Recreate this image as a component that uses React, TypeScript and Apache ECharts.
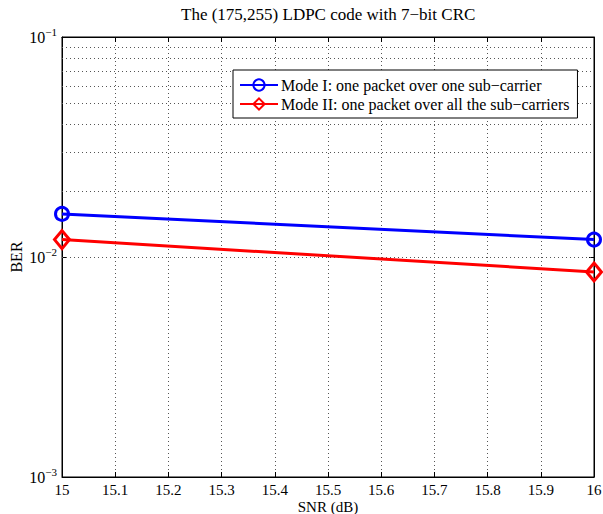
import React, { useEffect, useRef } from "react";
import * as echarts from "echarts";

const snr = [15, 16];
const modeI = [0.0157, 0.012];
const modeII = [0.012, 0.00855];
const seriesNames = [
  "Mode I: one packet over one sub\u2212carrier",
  "Mode II: one packet over all the sub\u2212carriers",
];
const minorMultipliers = [2, 3, 4, 5, 6, 7, 8, 9];
const decades = [0.001, 0.01];
const titleText = "The (175,255) LDPC code with 7\u2212bit CRC";

const FONT = "Liberation Serif";

export default function App() {
  const ref = useRef<HTMLDivElement>(null);
  useEffect(() => {
    if (!ref.current) return;
    const chart = echarts.init(ref.current, undefined, { renderer: "svg" });
    const minorLines: any[] = [];
    decades.forEach((d) => minorMultipliers.forEach((m) => minorLines.push({ yAxis: d * m })));
    const dotted = { color: "#555", width: 1, type: [1, 3] as any };
    const xBase = {
      type: "value" as const,
      min: 15,
      max: 16,
      interval: 0.1,
      axisLine: { show: true, onZero: false, lineStyle: { color: "#000", width: 1 } },
      axisTick: { show: true, inside: true, length: 5, lineStyle: { color: "#000" } },
    };
    const yBase = {
      type: "log" as const,
      logBase: 10,
      min: 0.001,
      max: 0.1,
      axisLine: { show: true, onZero: false, lineStyle: { color: "#000", width: 1 } },
      axisTick: { show: true, inside: true, length: 5, lineStyle: { color: "#000" } },
    };
    chart.setOption({
      animation: false,
      backgroundColor: "#fff",
      title: {
        text: titleText,
        left: 181,
        top: 6,
        padding: 0,
        textStyle: { fontFamily: FONT, fontSize: 17, fontWeight: "normal", color: "#000" },
      },
      grid: {
        left: 62,
        right: 9,
        top: 37,
        bottom: 37,
        show: true,
        borderColor: "#000",
        borderWidth: 1,
        backgroundColor: "#fff",
        outerBoundsMode: "none",
        containLabel: false,
      },
      legend: {
        left: 233,
        top: 70,
        orient: "vertical",
        backgroundColor: "#fff",
        borderColor: "#000",
        borderWidth: 1,
        borderRadius: 0,
        padding: [7, 8, 6, 6],
        itemGap: 3,
        itemWidth: 38,
        itemHeight: 14,
        textStyle: { fontFamily: FONT, fontSize: 16, color: "#000", padding: [0, 0, 0, -2] },
        data: seriesNames,
      },
      xAxis: [
        {
          ...xBase,
          position: "bottom",
          name: "SNR (dB)",
          nameLocation: "middle",
          nameGap: 22,
          nameMoveOverlap: false,
          nameTextStyle: { fontFamily: FONT, fontSize: 15, color: "#000" },
          axisLabel: {
            fontFamily: FONT,
            fontSize: 15,
            color: "#000",
            margin: 5,
            hideOverlap: false,
            formatter: (v: number) => String(Math.round(v * 10) / 10),
          },
          splitLine: { show: true, lineStyle: dotted },
        },
        {
          ...xBase,
          position: "top",
          axisLabel: { show: false },
          splitLine: { show: false },
        },
      ],
      yAxis: [
        {
          ...yBase,
          position: "left",
          name: "BER",
          nameLocation: "middle",
          nameGap: 38,
          nameMoveOverlap: false,
          nameTextStyle: { fontFamily: FONT, fontSize: 16, color: "#000" },
          axisLabel: {
            color: "#000",
            margin: 5,
            formatter: (v: number) => `{b|10}{e|\u2212${Math.round(-Math.log10(v))}}`,
            rich: {
              b: { fontFamily: FONT, fontSize: 16, color: "#000" },
              e: { fontFamily: FONT, fontSize: 11, color: "#000", padding: [0, 0, 11, 0] },
            },
          },
          splitLine: { show: true, lineStyle: dotted },
        },
        {
          ...yBase,
          position: "right",
          axisLabel: { show: false },
          splitLine: { show: false },
        },
      ],
      series: [
        {
          name: seriesNames[0],
          type: "line",
          data: snr.map((x, i) => [x, modeI[i]]),
          symbol: "circle",
          symbolSize: 13,
          showSymbol: true,
          lineStyle: { color: "#0000ff", width: 3 },
          itemStyle: { color: "rgba(255,255,255,0)", borderColor: "#0000ff", borderWidth: 3 },
          z: 5,
          markLine: {
            silent: true,
            symbol: "none",
            label: { show: false },
            lineStyle: dotted,
            data: minorLines,
            z: 1,
          },
        },
        {
          name: seriesNames[1],
          type: "line",
          data: snr.map((x, i) => [x, modeII[i]]),
          symbol: "diamond",
          symbolSize: [15, 18],
          showSymbol: true,
          lineStyle: { color: "#ff0000", width: 3 },
          itemStyle: { color: "rgba(255,255,255,0)", borderColor: "#ff0000", borderWidth: 3 },
          z: 5,
        },
      ],
    });
    return () => chart.dispose();
  }, []);
  return (
    <div
      ref={ref}
      style={{ position: "fixed", left: 0, top: 0, width: 603, height: 514 }}
    />
  );
}
